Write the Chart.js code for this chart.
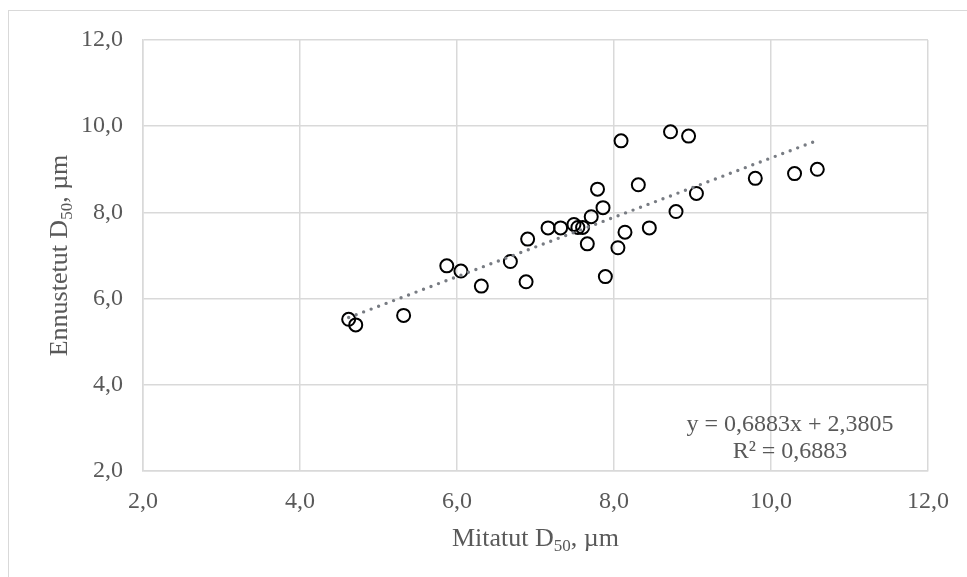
<!DOCTYPE html>
<html>
<head>
<meta charset="utf-8">
<script src="https://cdn.jsdelivr.net/npm/chart.js@4/dist/chart.umd.min.js"></script>
<style>
    html, body { margin: 0; padding: 0; background: #fff; overflow: hidden; }
    #wrap { position: relative; width: 967px; height: 577px; }
    #frame { position: absolute; left: 8px; top: 10px; width: 980px; height: 600px; border: 1.5px solid #d9d9d9; }
    canvas { position: absolute; left: 0; top: 0; }
</style>
</head>
<body>
<div id="wrap">
    <div id="frame"></div>
    <canvas id="chart" width="967" height="577"></canvas>
</div>
<script>
// Measured vs predicted D50 (µm)
const measured = [4.62, 4.71, 5.32, 5.87, 6.05, 6.31, 6.68, 6.88, 6.90, 7.16, 7.32, 7.49, 7.54, 7.60, 7.66, 7.71,
    7.79, 7.86, 7.89, 8.05, 8.09, 8.14, 8.31, 8.45, 8.72, 8.79, 8.95, 9.05, 9.80, 10.30, 10.59];
const predicted = [5.52, 5.39, 5.61, 6.76, 6.64, 6.29, 6.86, 6.39, 7.38, 7.64, 7.64, 7.72, 7.65, 7.65, 7.27, 7.90,
    8.54, 8.11, 6.51, 7.18, 9.66, 7.54, 8.64, 7.64, 9.87, 8.02, 9.77, 8.44, 8.79, 8.90, 9.00];
const trendX = [4.62, 10.59];
const trendY = [5.56, 9.67];
const equationLines = ['y = 0,6883x + 2,3805', 'R² = 0,6883'];
const xTitle = ['Mitatut D', '50', ', µm'];
const yTitle = ['Ennustetut D', '50', ', µm'];

const FONT = '"Liberation Serif", "Times New Roman", serif';
const TEXT = '#595959';

function drawSubTitle(ctx, parts, size) {
    // draw "D" + subscript "50" + rest, centered at 0,0
    const sub = Math.round(size * 0.66);
    ctx.font = size + 'px ' + FONT;
    const w1 = ctx.measureText(parts[0]).width;
    const w3 = ctx.measureText(parts[2]).width;
    ctx.font = sub + 'px ' + FONT;
    const w2 = ctx.measureText(parts[1]).width;
    let x = -(w1 + w2 + w3) / 2;
    ctx.textBaseline = 'alphabetic';
    ctx.textAlign = 'left';
    ctx.font = size + 'px ' + FONT;
    ctx.fillText(parts[0], x, size * 0.33);
    x += w1;
    ctx.font = sub + 'px ' + FONT;
    ctx.fillText(parts[1], x, size * 0.33 + size * 0.22);
    x += w2;
    ctx.font = size + 'px ' + FONT;
    ctx.fillText(parts[2], x, size * 0.33);
}

const annotations = {
    id: 'annotations',
    afterDraw(chart) {
        const ctx = chart.ctx;
        const a = chart.chartArea;
        ctx.save();
        ctx.fillStyle = TEXT;
        // x title
        ctx.save();
        ctx.translate((a.left + a.right) / 2, 537);
        drawSubTitle(ctx, xTitle, 26);
        ctx.restore();
        // y title
        ctx.save();
        ctx.translate(58, (a.top + a.bottom) / 2);
        ctx.rotate(-Math.PI / 2);
        drawSubTitle(ctx, yTitle, 26);
        ctx.restore();
        // trendline equation
        ctx.font = '24px ' + FONT;
        ctx.textAlign = 'center';
        ctx.textBaseline = 'middle';
        ctx.fillText(equationLines[0], 790, 425);
        ctx.fillText(equationLines[1], 790, 452);
        ctx.restore();
    }
};

const points = measured.map((x, i) => ({ x, y: predicted[i] }));
const trend = trendX.map((x, i) => ({ x, y: trendY[i] }));

new Chart(document.getElementById('chart'), {
    type: 'scatter',
    data: {
        datasets: [{
            data: points,
            pointStyle: 'circle',
            pointRadius: 6.5,
            pointHoverRadius: 6.5,
            pointBorderWidth: 2,
            borderColor: '#000',
            backgroundColor: 'rgba(0,0,0,0)',
            order: 2
        }, {
            type: 'line',
            data: trend,
            borderColor: '#787c83',
            borderWidth: 3.4,
            borderDash: [0, 8],
            borderCapStyle: 'round',
            pointRadius: 0,
            fill: false,
            order: 1
        }]
    },
    options: {
        responsive: false,
        animation: false,
        events: [],
        layout: { padding: { left: 0, top: 40, right: 39, bottom: 0 } },
        plugins: { legend: { display: false }, tooltip: { enabled: false } },
        scales: {
            x: {
                type: 'linear',
                min: 2, max: 12,
                afterFit: s => { s.height = 106; },
                grid: { color: '#d9d9d9', lineWidth: 1.5, drawTicks: false },
                border: { color: '#d9d9d9', width: 1.5 },
                ticks: {
                    stepSize: 2, padding: 16, color: TEXT,
                    font: { family: FONT, size: 24 },
                    callback: v => v.toFixed(1).replace('.', ',')
                }
            },
            y: {
                type: 'linear',
                min: 2, max: 12,
                afterFit: s => { s.width = 143; },
                grid: { color: '#d9d9d9', lineWidth: 1.5, drawTicks: false },
                border: { color: '#d9d9d9', width: 1.5 },
                ticks: {
                    stepSize: 2, padding: 20, color: TEXT,
                    font: { family: FONT, size: 24 },
                    callback: v => v.toFixed(1).replace('.', ',')
                }
            }
        }
    },
    plugins: [annotations]
});
</script>
</body>
</html>
